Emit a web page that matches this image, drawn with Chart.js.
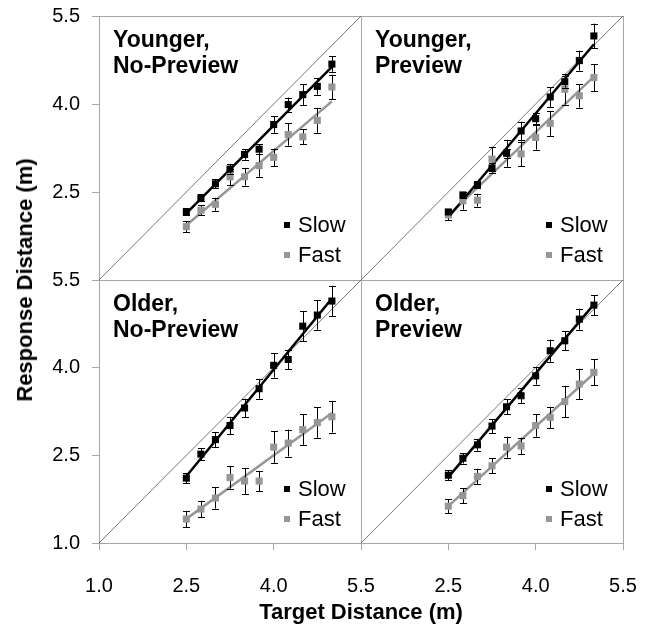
<!DOCTYPE html>
<html>
<head>
<meta charset="utf-8">
<script src="https://cdn.jsdelivr.net/npm/chart.js@4.4.0/dist/chart.umd.min.js"></script>
<style>
  body { margin: 0; background: #fff; }
  #wrap { position: relative; width: 651px; height: 629px; overflow: hidden; font-family: Arial, "Liberation Sans", sans-serif; }
  #wrap canvas { position: absolute; left: 0; top: 0; }
  .ytitle { position: absolute; left: 25px; top: 280px; transform: translate(-50%, -50%) rotate(-90deg); white-space: nowrap; font-weight: bold; font-size: 22px; }
  .xtitle { position: absolute; left: 361px; top: 612px; transform: translate(-50%, -50%); white-space: nowrap; font-weight: bold; font-size: 22px; }
</style>
</head>
<body>
<div id="wrap">
  <canvas id="c0" width="651" height="629"></canvas>
  <canvas id="c1" width="651" height="629"></canvas>
  <canvas id="c2" width="651" height="629"></canvas>
  <canvas id="c3" width="651" height="629"></canvas>
  <div class="ytitle">Response Distance (m)</div>
  <div class="xtitle">Target Distance (m)</div>
</div>
<script>
// target distances (m), same for every panel
const targetX = [2.5, 2.75, 3.0, 3.25, 3.5, 3.75, 4.0, 4.25, 4.5, 4.75, 5.0];
const tickVals = [1.0, 2.5, 4.0, 5.5];

// Younger, No-Preview
const yngNoPrevSlow    = [2.16, 2.40, 2.64, 2.89, 3.14, 3.23, 3.65, 3.99, 4.16, 4.30, 4.68];
const yngNoPrevSlowErr = [0.06, 0.06, 0.08, 0.08, 0.09, 0.08, 0.14, 0.12, 0.18, 0.14, 0.13];
const yngNoPrevFast    = [1.91, 2.19, 2.29, 2.76, 2.76, 2.95, 3.09, 3.48, 3.44, 3.72, 4.29];
const yngNoPrevFastErr = [0.09, 0.08, 0.11, 0.14, 0.15, 0.19, 0.15, 0.19, 0.13, 0.21, 0.21];

// Younger, Preview
const yngPrevSlow    = [2.16, 2.45, 2.62, 2.91, 3.16, 3.54, 3.75, 4.12, 4.38, 4.74, 5.16];
const yngPrevSlowErr = [0.04, 0.05, 0.06, 0.08, 0.08, 0.16, 0.09, 0.17, 0.10, 0.17, 0.21];
const yngPrevFast    = [2.11, 2.35, 2.36, 3.06, 3.16, 3.15, 3.43, 3.67, 4.25, 4.14, 4.45];
const yngPrevFastErr = [0.09, 0.15, 0.11, 0.21, 0.23, 0.21, 0.21, 0.21, 0.26, 0.20, 0.23];

// Older, No-Preview
const oldNoPrevSlow    = [2.11, 2.52, 2.77, 3.01, 3.31, 3.64, 4.04, 4.14, 4.71, 4.90, 5.14];
const oldNoPrevSlowErr = [0.09, 0.10, 0.13, 0.15, 0.16, 0.17, 0.21, 0.17, 0.26, 0.25, 0.26];
const oldNoPrevFast    = [1.41, 1.58, 1.77, 2.12, 2.06, 2.06, 2.64, 2.71, 2.94, 3.06, 3.16];
const oldNoPrevFastErr = [0.14, 0.14, 0.18, 0.19, 0.22, 0.17, 0.27, 0.23, 0.26, 0.26, 0.27];

// Older, Preview
const oldPrevSlow    = [2.16, 2.45, 2.68, 3.00, 3.33, 3.52, 3.86, 4.29, 4.46, 4.83, 5.07];
const oldPrevSlowErr = [0.09, 0.09, 0.10, 0.12, 0.13, 0.13, 0.15, 0.19, 0.16, 0.18, 0.17];
const oldPrevFast    = [1.63, 1.81, 2.14, 2.32, 2.64, 2.66, 3.01, 3.15, 3.42, 3.72, 3.92];
const oldPrevFastErr = [0.12, 0.13, 0.13, 0.13, 0.18, 0.14, 0.19, 0.18, 0.27, 0.26, 0.22];

const W = 651, H = 629;
const FAST = '#969696';
const FRAME = '#a6a6a6';

// least squares trendline, like the Excel one
function fitLine(xs, ys) {
  const n = xs.length;
  const mx = xs.reduce((a, b) => a + b, 0) / n;
  const my = ys.reduce((a, b) => a + b, 0) / n;
  let sxy = 0, sxx = 0;
  for (let i = 0; i < n; i++) { sxy += (xs[i] - mx) * (ys[i] - my); sxx += (xs[i] - mx) ** 2; }
  const b = sxy / sxx, a = my - b * mx;
  const x0 = xs[0], x1 = xs[n - 1];
  return [{ x: x0, y: a + b * x0 }, { x: x1, y: a + b * x1 }];
}

const pts = ys => targetX.map((x, i) => ({ x, y: ys[i] }));

// stop tick labels from pushing the plot area around
function noPad(ax) {
  ax.paddingTop = 0; ax.paddingBottom = 0; ax.paddingLeft = 0; ax.paddingRight = 0;
}

const panelPlugin = {
  id: 'panel',
  beforeDatasetsDraw(chart) {
    const { ctx, chartArea: a } = chart;
    ctx.save();
    ctx.strokeStyle = FRAME;
    ctx.lineWidth = 1;
    ctx.strokeRect(a.left + 0.5, a.top + 0.5, a.right - a.left, a.bottom - a.top);
    ctx.restore();
  },
  beforeDatasetDraw(chart, args) {
    const ds = chart.data.datasets[args.index];
    if (!ds.err) return;
    const { ctx } = chart;
    const xs = chart.scales.x, ys = chart.scales.y;
    ctx.save();
    ctx.strokeStyle = '#000';
    ctx.lineWidth = 1;
    ctx.beginPath();
    ds.data.forEach((p, i) => {
      const px = Math.round(xs.getPixelForValue(p.x)) + 0.5;
      const y0 = ys.getPixelForValue(p.y - ds.err[i]);
      const y1 = ys.getPixelForValue(p.y + ds.err[i]);
      ctx.moveTo(px, y0); ctx.lineTo(px, y1);
      ctx.moveTo(px - 3.5, Math.round(y0) + 0.5); ctx.lineTo(px + 3.5, Math.round(y0) + 0.5);
      ctx.moveTo(px - 3.5, Math.round(y1) + 0.5); ctx.lineTo(px + 3.5, Math.round(y1) + 0.5);
    });
    ctx.stroke();
    ctx.restore();
  },
  afterDraw(chart) {
    const { ctx, chartArea: a } = chart;
    const o = chart.options.plugins.panel;
    ctx.save();
    ctx.fillStyle = '#000';
    ctx.textBaseline = 'alphabetic';
    ctx.font = 'bold 23px Arial, "Liberation Sans", sans-serif';
    ctx.fillText(o.title[0], a.left + 14, a.top + 31);
    ctx.fillText(o.title[1], a.left + 14, a.top + 57);
    ctx.font = '22px Arial, "Liberation Sans", sans-serif';
    ctx.textBaseline = 'middle';
    ctx.fillRect(a.left + 185, a.top + 206, 6, 6);
    ctx.fillText('Slow', a.left + 199, a.top + 210);
    ctx.fillStyle = FAST;
    ctx.fillRect(a.left + 185, a.top + 236, 6, 6);
    ctx.fillStyle = '#000';
    ctx.fillText('Fast', a.left + 199, a.top + 240);
    ctx.restore();
  }
};

function makePanel(id, rect, title, slow, slowErr, fast, fastErr, showX, showY, skipFirstX, skipFirstY) {
  const tickFont = { family: 'Arial, "Liberation Sans", sans-serif', size: 20 };
  const axisCommon = {
    type: 'linear', min: 1, max: 5.5,
    afterBuildTicks: ax => { ax.ticks = tickVals.map(v => ({ value: v })); },
    grid: { drawOnChartArea: false, drawTicks: true, tickLength: 7, color: FRAME },
    border: { display: true, color: FRAME }
  };
  new Chart(document.getElementById(id), {
    type: 'scatter',
    data: {
      datasets: [
        { type: 'line', data: [{ x: 1, y: 1 }, { x: 5.5, y: 5.5 }], borderColor: '#555', borderWidth: 0.8, pointRadius: 0, order: 5 },
        { type: 'line', data: fitLine(targetX, fast), borderColor: FAST, borderWidth: 2.5, pointRadius: 0, order: 4 },
        { type: 'line', data: fitLine(targetX, slow), borderColor: '#000', borderWidth: 2.5, pointRadius: 0, order: 3 },
        { label: 'Fast', data: pts(fast), err: fastErr, pointStyle: 'rect', pointRadius: 5, backgroundColor: FAST, borderColor: FAST, borderWidth: 0, order: 2 },
        { label: 'Slow', data: pts(slow), err: slowErr, pointStyle: 'rect', pointRadius: 5, backgroundColor: '#000', borderColor: '#000', borderWidth: 0, order: 1 }
      ]
    },
    options: {
      responsive: false, animation: false, events: [],
      layout: { padding: { left: showY ? 0 : rect.left, top: rect.top, right: W - rect.right, bottom: showX ? 0 : H - rect.bottom } },
      scales: {
        x: Object.assign({}, axisCommon, {
          display: showX,
          afterFit: ax => { noPad(ax); if (showX) ax.height = H - rect.bottom; },
          ticks: { font: tickFont, color: '#000', padding: 24, maxRotation: 0,
            callback: (v, i) => (skipFirstX && i === 0) ? '' : v.toFixed(1) }
        }),
        y: Object.assign({}, axisCommon, {
          display: showY,
          afterFit: ax => { noPad(ax); if (showY) ax.width = rect.left; },
          ticks: { font: tickFont, color: '#000', padding: 12,
            callback: (v, i) => (skipFirstY && i === 0) ? '' : v.toFixed(1) }
        })
      },
      plugins: { legend: { display: false }, tooltip: { enabled: false }, panel: { title } }
    },
    plugins: [panelPlugin]
  });
}

makePanel('c0', { left: 99, top: 16, right: 361, bottom: 280 }, ['Younger,', 'No-Preview'],
  yngNoPrevSlow, yngNoPrevSlowErr, yngNoPrevFast, yngNoPrevFastErr, false, true, false, true);
makePanel('c1', { left: 361, top: 16, right: 623, bottom: 280 }, ['Younger,', 'Preview'],
  yngPrevSlow, yngPrevSlowErr, yngPrevFast, yngPrevFastErr, false, false, false, false);
makePanel('c2', { left: 99, top: 280, right: 361, bottom: 543 }, ['Older,', 'No-Preview'],
  oldNoPrevSlow, oldNoPrevSlowErr, oldNoPrevFast, oldNoPrevFastErr, true, true, false, false);
makePanel('c3', { left: 361, top: 280, right: 623, bottom: 543 }, ['Older,', 'Preview'],
  oldPrevSlow, oldPrevSlowErr, oldPrevFast, oldPrevFastErr, true, false, true, false);
</script>
</body>
</html>
